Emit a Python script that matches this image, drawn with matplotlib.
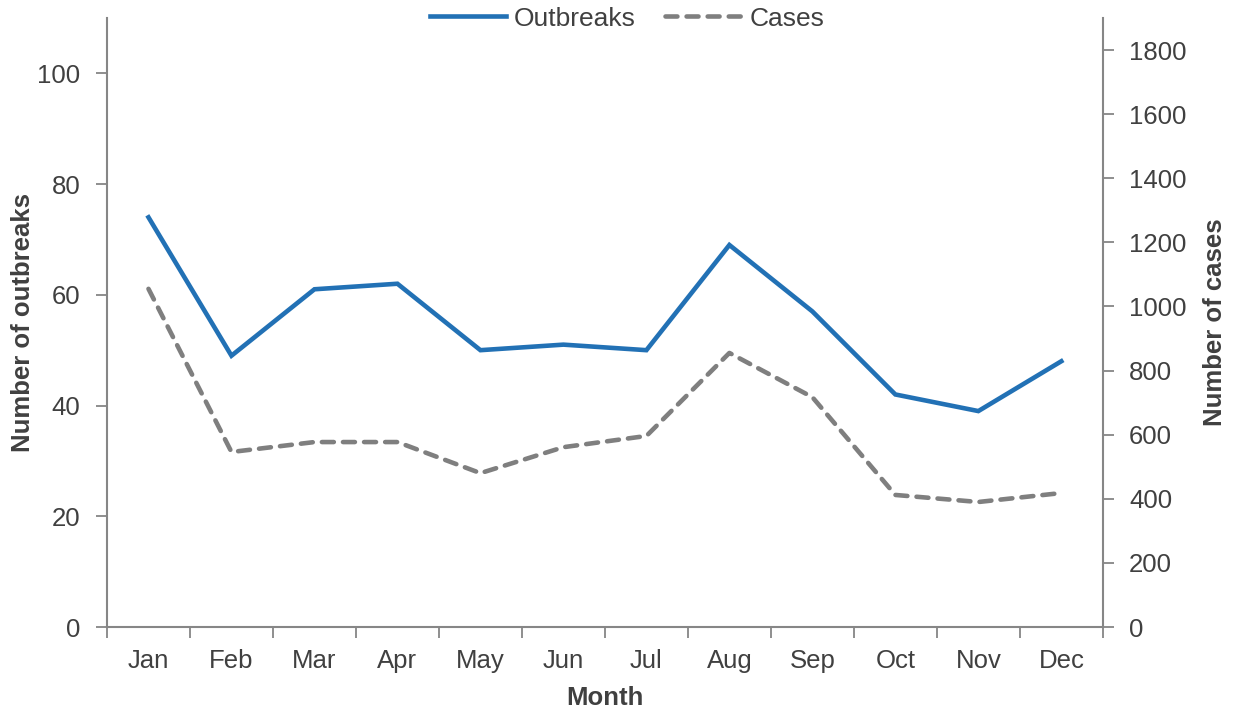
import numpy as np
import matplotlib.pyplot as plt

# =========================
# Data
# =========================
months = ["Jan", "Feb", "Mar", "Apr", "May", "Jun",
          "Jul", "Aug", "Sep", "Oct", "Nov", "Dec"]
outbreaks = [74, 49, 61, 62, 50, 51, 50, 69, 57, 42, 39, 48]
cases = [1055, 546, 577, 577, 480, 561, 596, 855, 717, 412, 390, 418]

left_ticks = [0, 20, 40, 60, 80, 100]
right_ticks = [0, 200, 400, 600, 800, 1000, 1200, 1400, 1600, 1800]

# =========================
# Style
# =========================
plt.rcParams['font.family'] = ['Liberation Sans', 'DejaVu Sans']
text_col = "#404040"
axis_col = "#868686"
blue = "#2271b5"
grey = "#7f7f7f"
fs = 18.5

fig = plt.figure(figsize=(12.34, 7.13), dpi=100)
ax = fig.add_axes([0.0867, 0.1206, 0.807, 0.8542])
ax2 = ax.twinx()

x = np.arange(len(months))
l1, = ax.plot(x, outbreaks, color=blue, lw=3.3, label="Outbreaks",
              solid_joinstyle="miter")
l2, = ax2.plot(x, cases, color=grey, lw=3.3, label="Cases",
               dashes=(2.6, 2.0), dash_capstyle="round")

ax.set_xlim(-0.5, len(months) - 0.5)
ax.set_ylim(0, 110)
ax2.set_ylim(0, 1900)

ax.set_xticks(x)
ax.set_xticklabels(months)
ax.set_xticks(np.arange(-0.5, len(months)), minor=True)
ax.tick_params(axis="x", which="major", length=0, pad=16,
               labelsize=fs, labelcolor=text_col)
ax.tick_params(axis="x", which="minor", length=8, width=1.3,
               color=axis_col, direction="out")

ax.set_yticks(left_ticks)
ax.tick_params(axis="y", length=8, width=1.3, color=axis_col, pad=11,
               labelsize=fs, labelcolor=text_col)
ax2.set_yticks(right_ticks)
ax2.tick_params(axis="y", length=8, width=1.3, color=axis_col, pad=11,
                labelsize=fs, labelcolor=text_col)

for a in (ax, ax2):
    a.spines["top"].set_visible(False)
    for s in ("left", "right", "bottom"):
        a.spines[s].set_color(axis_col)
        a.spines[s].set_linewidth(1.5)
ax2.spines["left"].set_visible(False)
ax2.spines["bottom"].set_visible(False)
ax.spines["right"].set_visible(False)

ax.set_xlabel("Month", fontsize=fs, fontweight="bold", color=text_col,
              labelpad=9)
ax.set_ylabel("Number of outbreaks", fontsize=fs, fontweight="bold",
              color=text_col, labelpad=2)
ax2.set_ylabel("Number of cases", fontsize=fs, fontweight="bold",
               color=text_col, labelpad=12)

leg = fig.legend(handles=[l1, l2], loc="center", bbox_to_anchor=(0.508, 0.974),
                 ncol=2, frameon=False, fontsize=19, handlelength=2.9,
                 columnspacing=1.1, handletextpad=0.3)
for t in leg.get_texts():
    t.set_color(text_col)

fig.savefig("out.png", dpi=100)
